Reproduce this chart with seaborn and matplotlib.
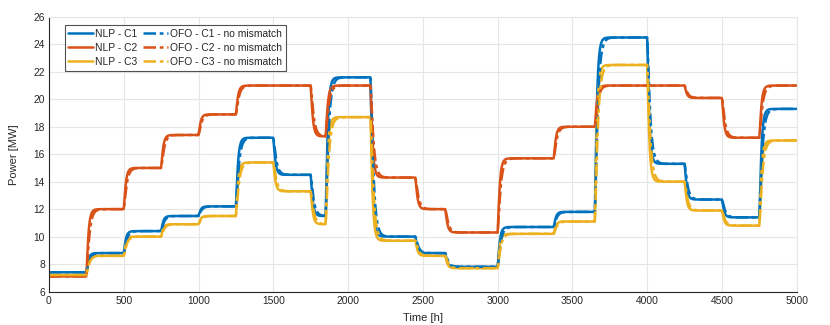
import numpy as np
import pandas as pd
import matplotlib
matplotlib.use("Agg")
import matplotlib.pyplot as plt
import seaborn as sns

# ---- data ----
switch_times = [0, 250, 500, 750, 1000, 1250, 1500, 1750, 1850, 2150,
                2450, 2650, 3000, 3375, 3650, 4000, 4250, 4500, 4750]
nlp_c1 = [7.4, 8.8, 10.4, 11.5, 12.2, 17.2, 14.5, 11.5, 21.6, 10.0,
          8.8, 7.8, 10.7, 11.8, 24.5, 15.3, 12.7, 11.4, 19.3]
nlp_c2 = [7.1, 12.0, 15.0, 17.4, 18.9, 21.0, 21.0, 17.3, 21.0, 14.3,
          12.0, 10.3, 15.7, 18.0, 21.0, 21.0, 20.1, 17.2, 21.0]
nlp_c3 = [7.2, 8.6, 10.0, 10.9, 11.5, 15.4, 13.3, 10.9, 18.7, 9.7,
          8.6, 7.7, 10.2, 11.1, 22.5, 14.0, 11.9, 10.8, 17.0]
t_end = 5000

labels_nlp = ["NLP - C1", "NLP - C2", "NLP - C3"]
labels_ofo = ["OFO - C1 - no mismatch", "OFO - C2 - no mismatch", "OFO - C3 - no mismatch"]
colors = ["#0072BD", "#D95319", "#EDB120"]

# ---- plant dynamics (cascaded first-order lags on the setpoint levels) ----
t = np.arange(0, t_end + 1, 1.0)


def stepped(levels):
    idx = np.searchsorted(switch_times, t, side="right") - 1
    return np.asarray(levels)[idx]


def lag(u, tau):
    y = np.empty_like(u)
    y[0] = u[0]
    a = 1.0 / tau
    for k in range(1, len(u)):
        y[k] = y[k - 1] + (u[k] - y[k - 1]) * a
    return y


sns.set_theme(style="white")
plt.rcParams["font.family"] = ["Liberation Sans", "DejaVu Sans"]

fig = plt.figure(figsize=(8.30, 3.25), dpi=100)
ax = fig.add_axes([0.059, 0.103, 0.901, 0.845])

for levels, lab, c in zip([nlp_c1, nlp_c2, nlp_c3], labels_nlp, colors):
    u = stepped(levels)
    df = pd.DataFrame({"t": t, "p": lag(lag(u, 4.0), 12.0)})
    sns.lineplot(data=df, x="t", y="p", ax=ax, color=c, lw=1.8,
                 estimator=None, label=lab)
for levels, lab, c in zip([nlp_c1, nlp_c2, nlp_c3], labels_ofo, colors):
    u = stepped(levels)
    df = pd.DataFrame({"t": t, "p": lag(lag(u, 6.0), 17.0)})
    sns.lineplot(data=df, x="t", y="p", ax=ax, color=c, lw=1.8,
                 estimator=None, label=lab, linestyle=(0, (5, 1.5, 1.5, 1.5)))

ax.set_xlim(0, 5000)
ax.set_ylim(6, 26)
ax.set_xticks(np.arange(0, 5001, 500))
ax.set_yticks(np.arange(6, 27, 2))
ax.grid(True, color="#e6e6e6", lw=0.8)
ax.set_axisbelow(True)
for s in ["top", "right"]:
    ax.spines[s].set_color("#e6e6e6")
    ax.spines[s].set_linewidth(0.8)
for s in ["left", "bottom"]:
    ax.spines[s].set_color("#262626")
    ax.spines[s].set_linewidth(0.8)
ax.tick_params(direction="in", length=4, width=0.8, colors="#262626",
               labelsize=7.4, pad=3)
ax.set_xlabel("Time [h]", fontsize=8, color="#262626", labelpad=5)
ax.set_ylabel("Power [MW]", fontsize=8, color="#262626", labelpad=10)

leg = ax.legend(loc="upper left", ncol=2, fontsize=7.4, frameon=True,
                fancybox=False, edgecolor="#262626", handlelength=2.4,
                handletextpad=0.2, columnspacing=0.6, labelspacing=0.4,
                borderpad=0.35, borderaxespad=0.0,
                bbox_to_anchor=(0.021, 0.97))
leg.get_frame().set_linewidth(0.8)

fig.savefig("out.png", dpi=100)
